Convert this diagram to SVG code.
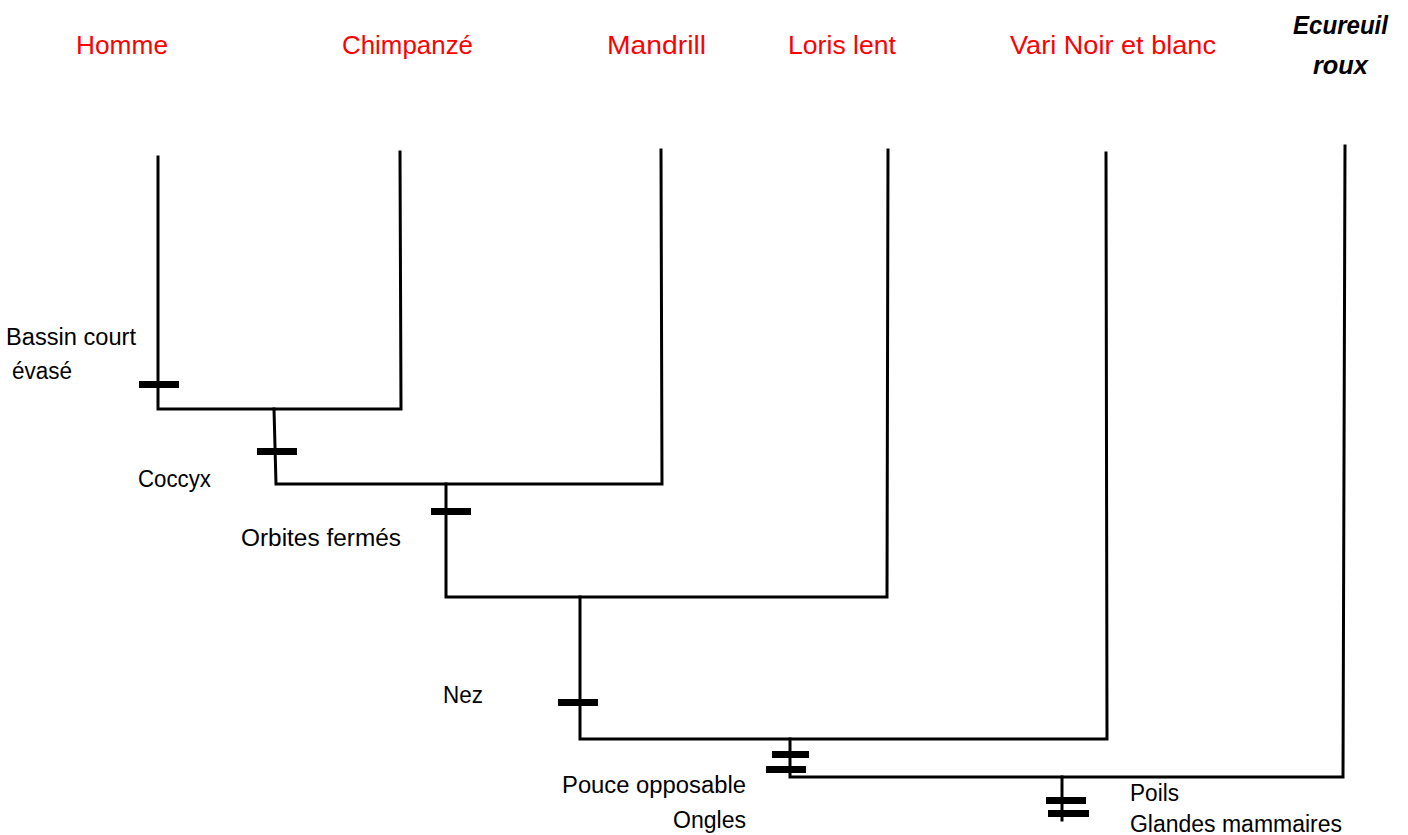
<svg xmlns="http://www.w3.org/2000/svg" width="1408" height="835" viewBox="0 0 1408 835">
<style>
.ln{stroke:#000;stroke-width:3;fill:none;stroke-linecap:square}
.tk{fill:#000}
.sp{font-family:"Liberation Sans",Arial,sans-serif;font-size:26px;fill:#ff0000}
.lb{font-family:"Liberation Sans",Arial,sans-serif;font-size:23px;fill:#000}
.eq{font-family:"Liberation Sans",Arial,sans-serif;font-size:25px;font-weight:bold;font-style:italic;fill:#000}
</style>
<rect width="1408" height="835" fill="#fff"/>
<g id="connectors">
<path class="ln" d="M158,157 L158,409 L401,409 L400,152"/>
<path class="ln" d="M274,409 L276,484 L662,484 L661,150"/>
<path class="ln" d="M446,484 L446,597 L887,597 L888,150"/>
<path class="ln" d="M580,597 L580,739 L1107,739 L1106,153"/>
<path class="ln" d="M790,739 L790,777 L1343,777 L1345,146"/>
<path class="ln" d="M1062,777 L1062,820"/>
</g>
<g id="ticks">
<rect class="tk" x="139" y="381" width="40" height="7"/>
<rect class="tk" x="257" y="448" width="40" height="7"/>
<rect class="tk" x="431" y="508" width="40" height="7"/>
<rect class="tk" x="558" y="699" width="40" height="7"/>
<rect class="tk" x="772" y="751" width="37" height="7"/>
<rect class="tk" x="766" y="766" width="40" height="7"/>
<rect class="tk" x="1046" y="797" width="40" height="7"/>
<rect class="tk" x="1048" y="810" width="41" height="7"/>
</g>
<g id="homme"><text class="sp" x="76" y="54" textLength="92" lengthAdjust="spacingAndGlyphs">Homme</text></g>
<g id="chimpanze"><text class="sp" x="342" y="54" textLength="131" lengthAdjust="spacingAndGlyphs">Chimpanzé</text></g>
<g id="mandrill"><text class="sp" x="607" y="54" textLength="99" lengthAdjust="spacingAndGlyphs">Mandrill</text></g>
<g id="loris"><text class="sp" x="788" y="54" textLength="108" lengthAdjust="spacingAndGlyphs">Loris lent</text></g>
<g id="vari"><text class="sp" x="1010" y="54" textLength="206" lengthAdjust="spacingAndGlyphs">Vari Noir et blanc</text></g>
<g id="ecureuil">
<text class="eq" x="1293" y="34" textLength="95" lengthAdjust="spacingAndGlyphs">Ecureuil</text>
<text class="eq" x="1313" y="74" textLength="55" lengthAdjust="spacingAndGlyphs">roux</text>
</g>
<g id="bassin">
<text class="lb" x="6" y="345" textLength="130" lengthAdjust="spacingAndGlyphs">Bassin court</text>
<text class="lb" x="12" y="379" textLength="60" lengthAdjust="spacingAndGlyphs">évasé</text>
</g>
<g id="coccyx"><text class="lb" x="138" y="487" textLength="73" lengthAdjust="spacingAndGlyphs">Coccyx</text></g>
<g id="orbites"><text class="lb" x="241" y="546" textLength="160" lengthAdjust="spacingAndGlyphs">Orbites fermés</text></g>
<g id="nez"><text class="lb" x="443" y="703" textLength="40" lengthAdjust="spacingAndGlyphs">Nez</text></g>
<g id="pouce">
<text class="lb" x="562" y="793" textLength="184" lengthAdjust="spacingAndGlyphs">Pouce opposable</text>
<text class="lb" x="673" y="828" textLength="73" lengthAdjust="spacingAndGlyphs">Ongles</text>
</g>
<g id="poils">
<text class="lb" x="1130" y="801" textLength="49" lengthAdjust="spacingAndGlyphs">Poils</text>
<text class="lb" x="1130" y="832" textLength="212" lengthAdjust="spacingAndGlyphs">Glandes mammaires</text>
</g>
</svg>
